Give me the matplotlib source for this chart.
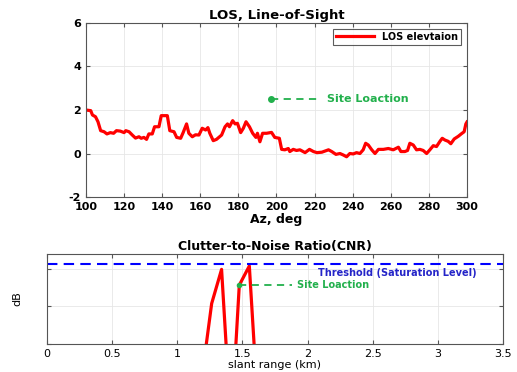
import matplotlib
matplotlib.use("Agg")
import matplotlib.pyplot as plt

plt.rcParams["axes.unicode_minus"] = False

az = [100, 102.5, 103.4, 105, 106.3, 107.7, 109.5, 111, 112.8, 114.5, 116, 118, 120, 120.9,
      122.6, 124.3, 126, 127.8, 129, 130.4, 131.8, 133, 134.8, 136, 138.3, 139.5, 142.7, 144,
      146.2, 147.6, 149.7, 151, 152.8, 154, 155.8, 157.5, 159.3, 161, 162.8, 164, 165, 166.8,
      168.5, 171.2, 173, 174.3, 175.3, 177, 178.3, 179.5, 181.2, 182.6, 184, 185.8, 187.5,
      189.2, 190, 191.3, 192.7, 194.8, 197.4, 199.1, 201.5, 202.7, 204.4, 206.2, 207, 208.8,
      210.5, 212.3, 215, 217.3, 219.4, 221.2, 223.8, 227.3, 229, 231.2, 233.3, 235.1, 236.8,
      238.5, 240.3, 242, 243.8, 245.5, 246.8, 248.2, 250, 251.7, 253.5, 256.1, 258.7, 261.3,
      264, 265.3, 267.4, 268.8, 270, 271.8, 273.5, 275.3, 277, 278.8, 280.5, 282.3, 284,
      285.8, 287, 288.4, 290.1, 291.5, 293.3, 295.4, 297.1, 298.5, 299.4, 300]
los = [2.0, 1.97, 1.77, 1.69, 1.46, 1.05, 1.0, 0.9, 0.96, 0.93, 1.05, 1.03, 0.96, 1.05,
       1.0, 0.85, 0.71, 0.77, 0.7, 0.74, 0.65, 0.9, 0.9, 1.23, 1.23, 1.74, 1.74, 1.05,
       1.0, 0.74, 0.7, 0.96, 1.36, 0.93, 0.77, 0.86, 0.85, 1.16, 1.08, 1.19, 0.93, 0.59,
       0.65, 0.85, 1.23, 1.36, 1.23, 1.51, 1.36, 1.39, 0.96, 1.16, 1.46, 1.23, 0.93,
       0.74, 0.93, 0.54, 0.93, 0.93, 0.97, 0.74, 0.70, 0.19, 0.17, 0.23, 0.09, 0.19,
       0.14, 0.17, 0.04, 0.19, 0.09, 0.04, 0.06, 0.17, 0.09, -0.04, 0.0, -0.07, -0.15,
       0.0, -0.02, 0.04, 0.0, 0.17, 0.47, 0.39, 0.17, 0.0, 0.19, 0.19, 0.23, 0.17,
       0.29, 0.09, 0.09, 0.14, 0.47, 0.39, 0.17, 0.19, 0.14, 0.0, 0.17, 0.36, 0.32,
       0.56, 0.70, 0.62, 0.56, 0.45, 0.67, 0.79, 0.91, 1.0, 1.36, 1.45]

site_az = [197, 222]
site_el = [2.5, 2.5]

cnr_range = [1.2, 1.264, 1.34, 1.385, 1.44, 1.476, 1.553, 1.60]
cnr_db = [-0.6, 1.08, 1.99, -0.6, -0.6, 1.57, 2.08, -0.6]
threshold = 2.13
cnr_site_x = [1.47, 1.88]
cnr_site_y = [1.58, 1.58]

green = "#22b04c"
fig = plt.figure(figsize=(5.17, 3.72), dpi=100)

ax1 = fig.add_axes([0.1663, 0.4704, 0.737, 0.4678])
ax1.plot(az, los, color="red", lw=2.3, label="LOS elevtaion")
ax1.plot(site_az[0], site_el[0], "o", color=green, ms=4)
ax1.plot(site_az, site_el, "--", color=green, lw=1.3, dashes=(4, 3))
ax1.text(226.5, 2.5, "Site Loaction", color=green, fontsize=8, fontweight="bold", va="center")
ax1.set_xlim(100, 300)
ax1.set_ylim(-2, 6)
ax1.set_xticks(range(100, 301, 20))
ax1.set_yticks(range(-2, 7, 2))
ax1.grid(True, color="#e6e6e6", lw=0.6)
ax1.set_title("LOS, Line-of-Sight", fontsize=9.5, fontweight="bold", pad=3)
ax1.set_xlabel("Az, deg", fontsize=9, fontweight="bold", labelpad=1)
for lab in ax1.get_xticklabels() + ax1.get_yticklabels():
    lab.set_fontweight("bold")
ax1.tick_params(labelsize=8, direction="in", length=3, color="#555555", top=True, right=True)
for s in ax1.spines.values():
    s.set_color("#555555")
leg = ax1.legend(loc="upper right", prop={"weight": "bold", "size": 7},
                 fancybox=False, edgecolor="#333333", handlelength=4, borderpad=0.3,
                 borderaxespad=0.6)
leg.get_frame().set_linewidth(0.8)

ax2 = fig.add_axes([0.0909, 0.0753, 0.882, 0.2419])
ax2.plot(cnr_range, cnr_db, color="red", lw=2.3)
ax2.axhline(threshold, color="blue", ls="--", lw=1.5, dashes=(5, 3))
ax2.text(3.3, 1.89, "Threshold (Saturation Level)", color="#2424c8", fontsize=7,
         fontweight="bold", ha="right", va="center")
ax2.plot(cnr_site_x, cnr_site_y, "--", color=green, lw=1.3, dashes=(4, 3))
ax2.plot(cnr_site_x[0], cnr_site_y[0], "o", color=green, ms=3)
ax2.text(1.92, 1.58, "Site Loaction", color=green, fontsize=7, fontweight="bold", va="center")
ax2.set_xlim(0, 3.5)
ax2.set_ylim(0, 2.4)
ax2.set_xticks([0, 0.5, 1, 1.5, 2, 2.5, 3, 3.5])
ax2.set_xticklabels(["0", "0.5", "1", "1.5", "2", "2.5", "3", "3.5"])
ax2.set_yticks([0, 1, 2])
ax2.set_yticklabels([])
ax2.grid(True, color="#e6e6e6", lw=0.6)
ax2.set_title("Clutter-to-Noise Ratio(CNR)", fontsize=9, fontweight="bold", pad=3)
ax2.set_xlabel("slant range (km)", fontsize=8, labelpad=1)
ax2.set_ylabel("dB", fontsize=8, labelpad=14)
ax2.tick_params(labelsize=8, direction="in", length=3, color="#555555", top=True, right=True)
for s in ax2.spines.values():
    s.set_color("#555555")

fig.savefig("out.png", dpi=100)
